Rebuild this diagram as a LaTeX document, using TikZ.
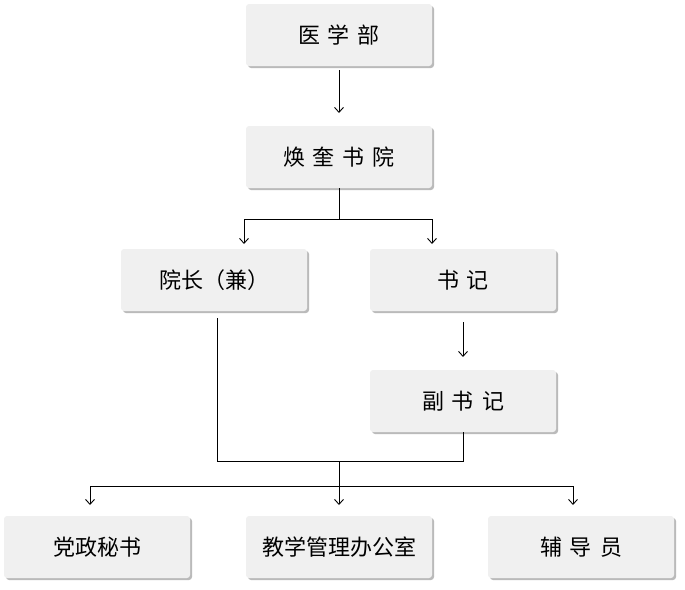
\documentclass[tikz,border=0pt]{standalone}
\usepackage{fontspec}
\newfontfamily\cjk{Noto Sans CJK SC}
\usetikzlibrary{shadows,arrows.meta}
\tikzset{box/.style={draw=none,fill=black!6,rounded corners=3pt,minimum width=186pt,minimum height=62pt,font=\cjk\fontsize{22}{22}\selectfont,drop shadow={shadow xshift=2pt,shadow yshift=-2pt,fill=black!45,opacity=.6}},
ln/.style={draw=black,line width=0.9pt},
ar/.style={ln,-{Straight Barb[length=5pt,width=9pt]}}}
\newcommand{\gp}{\hspace{8pt}}
\begin{document}
\begin{tikzpicture}[x=1pt,y=-1pt]
\useasboundingbox (0,0) rectangle (685,589);
\node[box] (a) at (339,35) {医\gp 学\gp 部};
\node[box] (b) at (339,157) {焕\gp 奎\gp 书\gp 院};
\node[box] (c) at (214,280) {院长（兼）};
\node[box] (d) at (463,280) {书\gp 记};
\node[box] (e) at (463,401) {副\gp 书\gp 记};
\node[box] (f) at (97,547) {党政秘书};
\node[box] (g) at (339,547) {教学管理办公室};
\node[box] (h) at (581,547) {辅\gp 导\gp 员};
\coordinate (j1) at (339,219);
\coordinate (l1) at (244,219);
\coordinate (r1) at (432,219);
\coordinate (j2) at (339,461);
\coordinate (j3) at (339,486);
\coordinate (l3) at (90,486);
\coordinate (r3) at (573,486);
\draw[ar] (339,70) -- (339,113);
\draw[ln] (b.south) -- (j1);
\draw[ar] (l1) -- (r1) -- (432,244);
\draw[ar] (l1) -- (244,244);
\draw[ar] (463,322) -- (463,357);
\draw[ln] (217,318) -- (217,461) -- (463,461) -- (e.south);
\draw[ar] (j2) -- (339,505);
\draw[ar] (l3) -- (r3) -- (573,505);
\draw[ar] (l3) -- (90,505);
\end{tikzpicture}
\end{document}
